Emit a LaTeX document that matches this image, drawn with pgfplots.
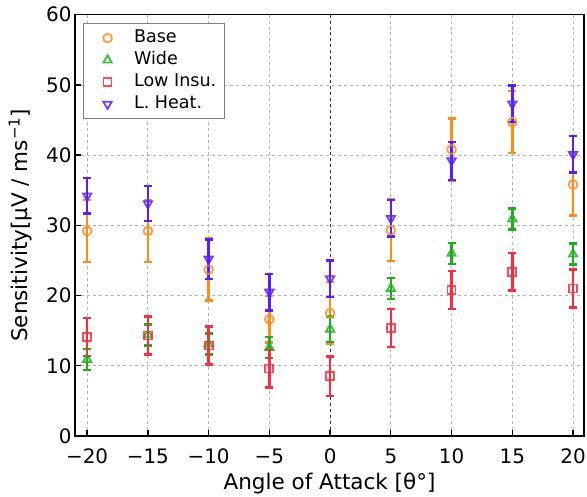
\documentclass[border=0pt]{standalone}
\usepackage{fontspec}
\setmainfont{DejaVu Sans}
\usepackage{pgfplots}
\pgfplotsset{compat=1.18}
\usepackage{pgfplotstable}
\definecolor{cbase}{HTML}{FF8C1A}
\definecolor{cwide}{HTML}{1DAF1D}
\definecolor{cinsu}{HTML}{FF2A3A}
\definecolor{cheat}{HTML}{5B1CFF}

% x  y  err
\pgfplotstableread{
x y e
-20 29.2 4.4
-15 29.2 4.4
-10 23.7 4.4
-5 16.6 3.3
0 17.5 4.4
5 29.3 4.4
10 40.8 4.4
15 44.7 4.4
20 35.8 4.4
}\base
\pgfplotstableread{
x y e
-20 10.9 1.5
-15 14.4 1.5
-10 13.1 1.5
-5 12.6 1.5
0 15.2 1.8
5 21.0 1.5
10 26.0 1.5
15 30.9 1.5
20 25.9 1.5
}\wide
\pgfplotstableread{
x y e
-20 14.1 2.7
-15 14.3 2.7
-10 12.9 2.7
-5 9.6 2.7
0 8.5 2.8
5 15.4 2.7
10 20.8 2.7
15 23.4 2.7
20 21.0 2.7
}\insu
\pgfplotstableread{
x y e
-20 34.2 2.5
-15 33.1 2.5
-10 25.2 2.8
-5 20.5 2.6
0 22.4 2.6
5 31.0 2.6
10 39.2 2.7
15 47.3 2.6
20 40.1 2.6
}\heat

\pgfplotsset{
 ebar/.style={only marks, error bars/.cd, y dir=both, y explicit,
   error bar style={line width=2.4bp,color=#1},
   error mark options={rotate=90,line width=2.4bp,mark size=4bp,color=#1},
   /pgfplots/.cd},
}

\begin{document}
\begin{tikzpicture}
\begin{axis}[name=ax,
 width=509bp,height=421.3bp,scale only axis,
 xmin=-21,xmax=20.9,ymin=0,ymax=60,
 xtick={-20,-15,...,20},
 xticklabels={−20,−15,−10,−5,0,5,10,15,20},
 ytick={0,10,...,60},
 /pgf/number format/assume math mode=true,
 tick align=inside,xtick pos=bottom,ytick pos=left,
 major tick length=6bp,
 tick style={line width=1.3bp,black},
 axis line style={line width=1.3bp},
 grid=major,grid style={dashed,line width=0.8bp,black!30},
 tick label style={font=\fontsize{20}{24}\selectfont},
 xticklabel style={yshift=-9bp},
 label style={font=\fontsize{21.6}{26}\selectfont},
 xlabel={Angle of Attack [θ°]},
 ylabel={Sensitivity[μV / ms\textsuperscript{−1}]},
 x label style={at={(axis description cs:0.5,-0.112)},anchor=center},
 y label style={at={(axis description cs:-0.108,0.5)},anchor=center},
 legend style={at={(axis description cs:0.016,0.98)},anchor=north west,
   draw=black!50,line width=1bp,fill=white,
   font=\fontsize{17.6}{21}\selectfont,
   inner xsep=8bp,inner ysep=6bp,row sep=5bp,column sep=0bp,
   nodes={inner sep=0bp,text height=13bp,text depth=4bp},
   cells={anchor=west}},
 legend image code/.code={%
   \path (-15.4bp,0bp) (26bp,0bp);
   \draw[#1] plot coordinates {(0bp,0bp)};},
]
\addplot[black!80,dashed,line width=0.9bp,forget plot] coordinates {(0,0)(0,60)};
\addplot[ebar=cbase,mark=o,mark size=4.4bp,
  mark options={draw=cbase,line width=1.8bp,draw opacity=0.85}]
  table[x=x,y=y,y error=e]{\base};
\addlegendentry{Base}
\addplot[ebar=cwide,mark=triangle,mark size=4.8bp,
  mark options={draw=cwide,line width=1.8bp,draw opacity=0.85}]
  table[x=x,y=y,y error=e]{\wide};
\addlegendentry{Wide}
\addplot[ebar=cinsu,mark=square,mark size=4bp,
  mark options={draw=cinsu,line width=1.8bp,draw opacity=0.85}]
  table[x=x,y=y,y error=e]{\insu};
\addlegendentry{Low Insu.}
\addplot[ebar=cheat,mark=triangle,mark size=4.8bp,
  mark options={draw=cheat,line width=1.8bp,rotate=180,draw opacity=0.85}]
  table[x=x,y=y,y error=e]{\heat};
\addlegendentry{L. Heat.}
\end{axis}
\pgfresetboundingbox
\path[use as bounding box] ([xshift=-75bp,yshift=-61bp]ax.south west) rectangle ([xshift=3bp,yshift=14.7bp]ax.north east);
\end{tikzpicture}
\end{document}
